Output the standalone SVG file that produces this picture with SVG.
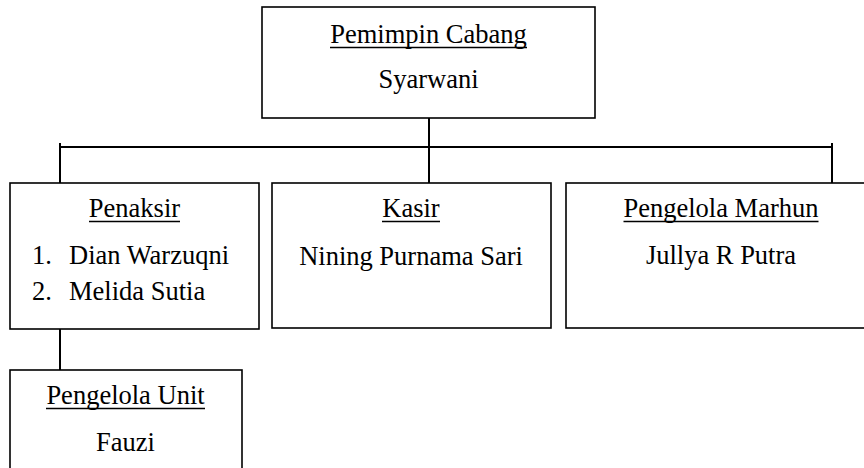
<svg xmlns="http://www.w3.org/2000/svg" width="864" height="468" viewBox="0 0 864 468">
<style>
.box{fill:#fff;stroke:#000;stroke-width:1.6}
.ln{stroke:#000;stroke-width:2;fill:none}
.ul{stroke:#000;stroke-width:1.3}
text{font-family:"Liberation Serif","Times New Roman",serif;font-size:26.5px;fill:#000}
.c{text-anchor:middle}
</style>
<rect width="864" height="468" fill="#fff"/>
<g id="connectors">
<line class="ln" x1="429" y1="118" x2="429" y2="183"/>
<line class="ln" x1="59" y1="147" x2="833" y2="147"/>
<line class="ln" x1="60" y1="143" x2="60" y2="183"/>
<line class="ln" x1="832" y1="143" x2="832" y2="183"/>
<line class="ln" x1="60" y1="329" x2="60" y2="370"/>
</g>
<g id="pemimpin">
<rect class="box" x="262" y="7" width="333" height="111"/>
<text class="c" x="428.5" y="43">Pemimpin Cabang</text>
<line class="ul" x1="330" y1="47.5" x2="527" y2="47.5"/>
<text class="c" x="428.5" y="88">Syarwani</text>
</g>
<g id="penaksir">
<rect class="box" x="10" y="183" width="249" height="146"/>
<text class="c" x="134.5" y="217">Penaksir</text>
<line class="ul" x1="89" y1="221.5" x2="180" y2="221.5"/>
<text x="32" y="264">1.</text>
<text x="69" y="264">Dian Warzuqni</text>
<text x="32" y="300">2.</text>
<text x="69" y="300">Melida Sutia</text>
</g>
<g id="kasir">
<rect class="box" x="272" y="183" width="279" height="145"/>
<text class="c" x="411" y="217">Kasir</text>
<line class="ul" x1="382" y1="221.5" x2="440" y2="221.5"/>
<text class="c" x="411" y="265">Nining Purnama Sari</text>
</g>
<g id="marhun">
<rect class="box" x="566" y="183" width="320" height="145"/>
<text class="c" x="721" y="217">Pengelola Marhun</text>
<line class="ul" x1="623.5" y1="221.5" x2="818.5" y2="221.5"/>
<text class="c" x="721" y="264">Jullya R Putra</text>
</g>
<g id="unit">
<rect class="box" x="10" y="370" width="232" height="120"/>
<text class="c" x="125.5" y="404">Pengelola Unit</text>
<line class="ul" x1="46" y1="408.5" x2="205" y2="408.5"/>
<text class="c" x="125.5" y="451">Fauzi</text>
</g>
</svg>
